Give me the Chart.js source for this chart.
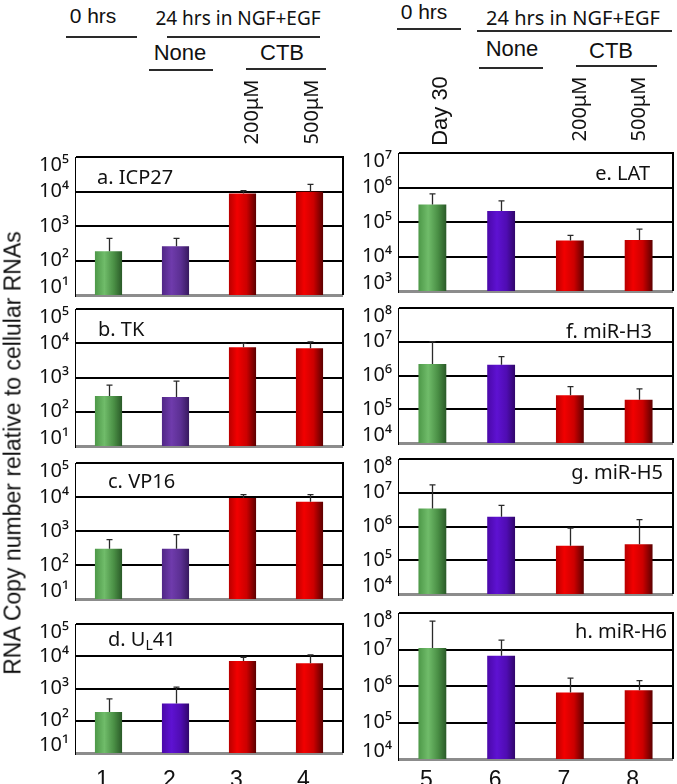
<!DOCTYPE html>
<html><head><meta charset="utf-8">
<script src="https://cdn.jsdelivr.net/npm/chart.js@4/dist/chart.umd.min.js"></script>
<style>
html,body{margin:0;padding:0;background:#fff;}
#root{position:relative;width:677px;height:784px;overflow:hidden;background:#fff;}
canvas{position:absolute;}
.t{position:absolute;white-space:nowrap;color:#111;line-height:1;}
.ln{position:absolute;height:2px;background:#2a2a2a;}
</style></head><body><div id="root"></div>
<script>
// ---------- DATA ----------
const leftCategories = ['1', '2', '3', '4'];
const rightCategories = ['5', '6', '7', '8'];
const panelTitles = ['a. ICP27', 'b. TK', 'c. VP16', 'd. U_L41', 'e. LAT', 'f. miR-H3', 'g. miR-H5', 'h. miR-H6'];

const icp27Mean  = [185, 260, 8700, 9800];
const icp27Upper = [440, 440, 10500, 16000];
const tkMean     = [290, 270, 7600, 7100];
const tkUpper    = [600, 780, 10000, 11000];
const vp16Mean   = [300, 300, 9400, 7200];
const vp16Upper  = [560, 780, 11700, 11700];
const ul41Mean   = [188, 340, 7100, 6100];
const ul41Upper  = [480, 1100, 9300, 11000];
const latMean    = [320000, 210000, 29000, 30000];
const latUpper   = [650000, 410000, 41000, 62000];
const mirH3Mean  = [2200000, 2100000, 260000, 190000];
const mirH3Upper = [10000000, 3600000, 470000, 400000];
const mirH5Mean  = [3400000, 1950000, 270000, 300000];
const mirH5Upper = [17000000, 4200000, 900000, 1600000];
const mirH6Mean  = [11000000, 6700000, 660000, 760000];
const mirH6Upper = [60000000, 18000000, 1650000, 1400000];

const viralGeneExponents = [1, 2, 3, 4, 5];
const latExponents = [3, 4, 5, 6, 7];
const mirnaExponents = [4, 5, 6, 7, 8];

const yAxisTitle = 'RNA Copy number relative to cellular RNAs';
const headerTime0 = '0 hrs';
const headerTime24 = '24 hrs in NGF+EGF';
const headerNone = 'None';
const headerCTB = 'CTB';
const doseLabels = ['200μM', '500μM'];
const latencyLabel = 'Day 30';

// ---------- STYLE / LAYOUT ----------
const root = document.getElementById('root');
const SUP = {'0':'⁰','1':'¹','2':'²','3':'³','4':'⁴','5':'⁵','6':'⁶','7':'⁷','8':'⁸','9':'⁹'};
const GREEN = [[0,'#4d9848'],[0.35,'#70bc6a'],[0.7,'#4a8f45'],[1,'#2a5a28']];
const PURPLE_A = [[0,'#502686'],[0.35,'#6f3bac'],[0.7,'#5b2f92'],[1,'#37195e']];
const PURPLE_B = [[0,'#4a08a8'],[0.35,'#5e12d2'],[0.7,'#4f0cb2'],[1,'#30066a']];
const RED = [[0,'#b80000'],[0.3,'#f20000'],[0.65,'#cc0000'],[1,'#5c0000']];

const panels = [
  {mean: icp27Mean, upper: icp27Upper, exps: viralGeneExponents, cats: leftCategories, t: 0, L: 75, R: 343, T: 155, B: 297, side: 'left', tx: 97, ty: 178, purple: PURPLE_A},
  {mean: tkMean, upper: tkUpper, exps: viralGeneExponents, cats: leftCategories, t: 1, L: 75, R: 343, T: 307, B: 448, side: 'left', tx: 98, ty: 330, purple: PURPLE_A},
  {mean: vp16Mean, upper: vp16Upper, exps: viralGeneExponents, cats: leftCategories, t: 2, L: 75, R: 343, T: 461, B: 601, side: 'left', tx: 108, ty: 482, purple: PURPLE_A},
  {mean: ul41Mean, upper: ul41Upper, exps: viralGeneExponents, cats: leftCategories, t: 3, L: 75, R: 343, T: 622, B: 753, side: 'left', tx: 108, ty: 640, purple: PURPLE_B, showX: true, xPad: 6},
  {mean: latMean, upper: latUpper, exps: latExponents, cats: rightCategories, t: 4, L: 398, R: 673, T: 151, B: 293, side: 'right', tx: 650, ty: 174, purple: PURPLE_B},
  {mean: mirH3Mean, upper: mirH3Upper, exps: mirnaExponents, cats: rightCategories, t: 5, L: 398, R: 673, T: 306, B: 445, side: 'right', tx: 652, ty: 332, purple: PURPLE_B},
  {mean: mirH5Mean, upper: mirH5Upper, exps: mirnaExponents, cats: rightCategories, t: 6, L: 398, R: 673, T: 457, B: 596, side: 'right', tx: 663, ty: 473, purple: PURPLE_B},
  {mean: mirH6Mean, upper: mirH6Upper, exps: mirnaExponents, cats: rightCategories, t: 7, L: 398, R: 673, T: 611, B: 759, side: 'right', tx: 667, ty: 632, purple: PURPLE_B, showX: true, xPad: 0}
];

const BAR_PCT = 0.81, CAT_PCT = 0.5;

function barFill(p) {
  return (ctx) => {
    const ch = ctx.chart;
    const stops = ctx.dataIndex === 0 ? GREEN : (ctx.dataIndex === 1 ? p.purple : RED);
    const xs = ch.scales.x;
    if (!xs || !ch.chartArea) return stops[1][1];
    const cx = xs.getPixelForValue(ctx.dataIndex);
    const half = ch.chartArea.width / ch.data.labels.length * BAR_PCT * CAT_PCT / 2;
    const g = ch.ctx.createLinearGradient(cx - half, 0, cx + half, 0);
    stops.forEach(s => g.addColorStop(s[0], s[1]));
    return g;
  };
}

const panelDecor = {
  id: 'panelDecor',
  beforeDraw(chart) {
    const s = chart.scales.y;
    const items = s.getLabelItems();
    if (items && items.length > 1 && !s._shifted) {
      items[0].options.translation[1] -= 8;
      items[items.length - 1].options.translation[1] += 8;
      s._shifted = true;
    }
  },
  afterDatasetsDraw(chart, args, opts) {
    const c = chart.ctx, ys = chart.scales.y, area = chart.chartArea;
    const meta = chart.getDatasetMeta(0);
    const mean = chart.data.datasets[0].data;
    c.save();
    // error bars
    c.strokeStyle = '#2a2a2a';
    c.lineWidth = 1.3;
    meta.data.forEach((bar, i) => {
      const x = Math.round(bar.x) + 0.5;
      const y0 = ys.getPixelForValue(mean[i]);
      const y1 = ys.getPixelForValue(opts.upper[i]);
      c.beginPath();
      c.moveTo(x, y0); c.lineTo(x, y1);
      c.moveTo(x - 3, y1); c.lineTo(x + 3, y1);
      c.stroke();
    });
    // right border
    c.strokeStyle = '#000';
    c.lineWidth = 2;
    c.beginPath();
    c.moveTo(area.right, area.top - 1); c.lineTo(area.right, area.bottom);
    c.stroke();
    // title
    const title = opts.title;
    const bigFont = '20px "Noto Sans"', smallFont = '14px "Noto Sans"';
    const parts = [];
    const idx = title.indexOf('_');
    if (idx >= 0) {
      parts.push({t: title.slice(0, idx), f: bigFont, dy: 0});
      parts.push({t: title.charAt(idx + 1), f: smallFont, dy: 6});
      parts.push({t: title.slice(idx + 2), f: bigFont, dy: 0});
    } else parts.push({t: title, f: bigFont, dy: 0});
    let total = 0;
    parts.forEach(pt => { c.font = pt.f; pt.w = c.measureText(pt.t).width; total += pt.w; });
    let x = opts.side === 'left' ? opts.tx : opts.tx - total;
    c.fillStyle = '#111';
    c.textBaseline = 'middle';
    c.textAlign = 'left';
    parts.forEach(pt => { c.font = pt.f; c.fillText(pt.t, x, opts.ty + pt.dy); x += pt.w; });
    c.restore();
  }
};

function makePanel(p) {
  const AX = 50, PT = 16, PR = 4;
  const XH = 34;
  const PB = p.showX ? 0 : 16;
  const plotW = p.R - p.L, plotH = p.B - p.T;
  const w = AX + plotW + PR, h = PT + plotH + (p.showX ? XH : PB);
  const left = p.L - AX, top = p.T - PT;
  const cv = document.createElement('canvas');
  cv.width = w; cv.height = h;
  cv.style.left = left + 'px'; cv.style.top = top + 'px';
  cv.style.width = w + 'px'; cv.style.height = h + 'px';
  root.appendChild(cv);
  const min = Math.pow(10, p.exps[0]);
  const max = Math.pow(10, p.exps[p.exps.length - 1]);
  const isMin = (c) => c.tick && c.tick.value <= min * 1.001;
  new Chart(cv, {
    type: 'bar',
    data: {
      labels: p.cats,
      datasets: [{data: p.mean, backgroundColor: barFill(p), borderWidth: 0, barPercentage: BAR_PCT, categoryPercentage: CAT_PCT}]
    },
    options: {
      responsive: false, animation: false, devicePixelRatio: 1,
      layout: {padding: {top: PT, right: PR, bottom: PB, left: 0}},
      plugins: {
        legend: {display: false}, tooltip: {enabled: false},
        panelDecor: {upper: p.upper, title: panelTitles[p.t], side: p.side, tx: p.tx - left, ty: p.ty - top}
      },
      scales: {
        x: {
          display: !!p.showX,
          grid: {display: false}, border: {display: false},
          ticks: {font: {family: '"Liberation Sans"', size: 23}, color: '#111', padding: p.xPad, labelOffset: -6, maxRotation: 0},
          afterFit: (s) => { s.height = p.showX ? XH : 0; }
        },
        y: {
          type: 'logarithmic', min: min, max: max,
          afterFit: (s) => { s.width = AX; },
          afterBuildTicks: (s) => { s.ticks = p.exps.map(e => ({value: Math.pow(10, e)})); },
          ticks: {
            autoSkip: false, padding: 6, color: '#111',
            font: {family: '"Noto Sans"', size: 20},
            callback: (v) => '10' + String(Math.round(Math.log10(v))).split('').map(d => SUP[d]).join('')
          },
          grid: {drawTicks: false, color: (c) => isMin(c) ? '#8c8c8c' : '#000', lineWidth: (c) => isMin(c) ? 3 : 2},
          border: {display: true, color: '#000', width: 1}
        }
      }
    },
    plugins: [panelDecor]
  });
}

panels.forEach(makePanel);

// ---------- HEADER / AXIS TEXT ----------
function addText(txt, cx, cy, font, rot) {
  const d = document.createElement('div');
  d.className = 't';
  d.textContent = txt;
  d.style.font = font;
  d.style.left = cx + 'px';
  d.style.top = cy + 'px';
  d.style.transform = 'translate(-50%,-50%)' + (rot ? ' rotate(-90deg)' : '');
  root.appendChild(d);
}
function addLine(x1, x2, y) {
  const d = document.createElement('div');
  d.className = 'ln';
  d.style.left = x1 + 'px';
  d.style.width = (x2 - x1) + 'px';
  d.style.top = (y - 1) + 'px';
  root.appendChild(d);
}
const ARIAL = '"Liberation Sans", Arial, sans-serif';
const HUM = '"Noto Sans", sans-serif';

addText(yAxisTitle, 13, 453, '23px ' + ARIAL, true);

// left header
addText(headerTime0, 93, 16, '21px ' + ARIAL);
addLine(66, 137, 37);
addText(headerTime24, 238, 18, '19px ' + HUM);
addLine(167, 320, 37);
addText(headerNone, 180, 53, '22px ' + ARIAL);
addLine(149, 213, 70);
addText(headerCTB, 282, 53, '22px ' + ARIAL);
addLine(246, 326, 69);
addText(doseLabels[0], 250, 112, '20px ' + HUM, true);
addText(doseLabels[1], 310, 112, '20px ' + HUM, true);

// right header
addText(headerTime0, 424, 12, '21px ' + ARIAL);
addLine(397, 461, 29);
addText(headerTime24, 573, 17, '20px ' + HUM);
addLine(477, 672, 31);
addText(headerNone, 512, 49, '22px ' + ARIAL);
addLine(479, 543, 68);
addText(headerCTB, 611, 51, '22px ' + ARIAL);
addLine(576, 657, 66);
addText(latencyLabel, 440, 111, '22px ' + ARIAL, true);
addText(doseLabels[0], 578, 109, '20px ' + HUM, true);
addText(doseLabels[1], 637, 109, '20px ' + HUM, true);
</script>
</body></html>
